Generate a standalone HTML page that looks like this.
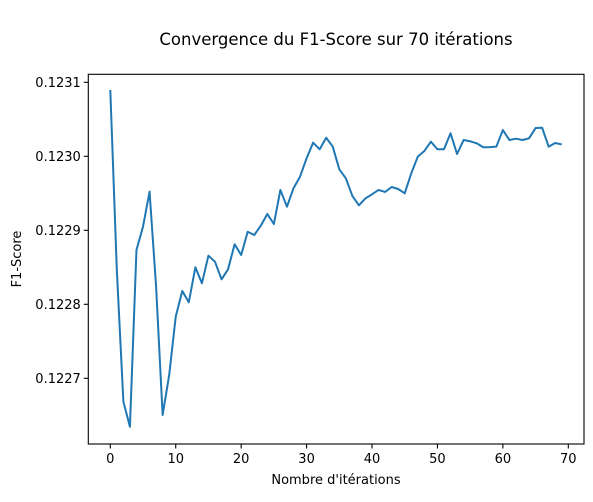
<!DOCTYPE html>
<html><head><meta charset="utf-8"><style>
body{margin:0;background:#fff;}
svg text{font-family:"DejaVu Sans","Liberation Sans",sans-serif;fill:#000;}
</style></head><body>
<svg id="chart" width="593" height="497" xmlns="http://www.w3.org/2000/svg"></svg>
<script>
const iterations = Array.from({length:70},(_,i)=>i);
const f1Values = [0.1230896,0.122846,0.1226684,0.1226346,0.1228734,0.1229049,0.1229522,0.1228238,0.1226504,0.1227045,
0.1227833,0.122818,0.1228027,0.12285,0.1228284,0.1228657,0.1228576,0.1228338,0.1228473,0.1228811,
0.1228666,0.1228981,0.1228936,0.1229062,0.122922,0.1229085,0.1229545,0.1229319,0.1229568,0.1229724,
0.1229973,0.1230184,0.1230095,0.1230251,0.123013,0.1229824,0.1229703,0.1229464,0.1229338,0.1229432,
0.1229486,0.1229545,0.1229518,0.1229585,0.1229558,0.12295,0.122977,0.1229995,0.1230072,0.1230197,
0.1230095,0.1230095,0.1230311,0.1230031,0.123022,0.1230203,0.1230176,0.1230122,0.1230124,0.123013,
0.1230355,0.123022,0.1230238,0.123022,0.1230243,0.1230382,0.1230386,0.123013,0.123018,0.123016];
const xTicks = [0,10,20,30,40,50,60,70];
const yTicks = [0.1227,0.1228,0.1229,0.1230,0.1231];
const yTickLabels = ["0.1227","0.1228","0.1229","0.1230","0.1231"];

const L=88.3,R=584,T=74.3,B=444;
const sx=v=>110.3+(v-0)*(568.3-110.3)/70;
const sy=v=>156.3-(v-0.1230)*740000;
const NS="http://www.w3.org/2000/svg";
const svg=document.getElementById('chart');
function mk(tag,attrs,txt){const e=document.createElementNS(NS,tag);for(const k in attrs)e.setAttribute(k,attrs[k]);if(txt!==undefined)e.textContent=txt;svg.appendChild(e);return e;}

let d=iterations.map((x,i)=>(i?'L':'M')+sx(x).toFixed(2)+','+sy(f1Values[i]).toFixed(2)).join('');
let line=mk('path',{d:d,fill:'none',stroke:'#1f77b4','stroke-width':2,'stroke-linejoin':'round'});



let frame=mk('rect',{x:L,y:T,width:R-L,height:B-T,fill:'none',stroke:'#000','stroke-width':1.1});



xTicks.forEach(t=>{
  const x=sx(t);
  let tk=mk('line',{x1:x,x2:x,y1:B,y2:B+4.5,stroke:'#000','stroke-width':1.1});
  
  
  let lb=mk('text',{x:x,y:B+19,'text-anchor':'middle','font-size':13},String(t));
  
  
});
yTicks.forEach((t,i)=>{
  const y=sy(t);
  let tk=mk('line',{x1:L-4.5,x2:L,y1:y,y2:y,stroke:'#000','stroke-width':1.1});
  
  
  let lb=mk('text',{x:L-7.5,y:y+4.5,'text-anchor':'end','font-size':13},yTickLabels[i]);
  
  
});
let tt=mk('text',{x:336,y:45,'text-anchor':'middle','font-size':16.5},'Convergence du F1-Score sur 70 itérations');


let xl=mk('text',{x:336,y:484,'text-anchor':'middle','font-size':13},"Nombre d'itérations");


let yl=mk('text',{x:21,y:259,'text-anchor':'middle','font-size':13,transform:'rotate(-90 21 259)'},'F1-Score');


</script>
</body></html>
